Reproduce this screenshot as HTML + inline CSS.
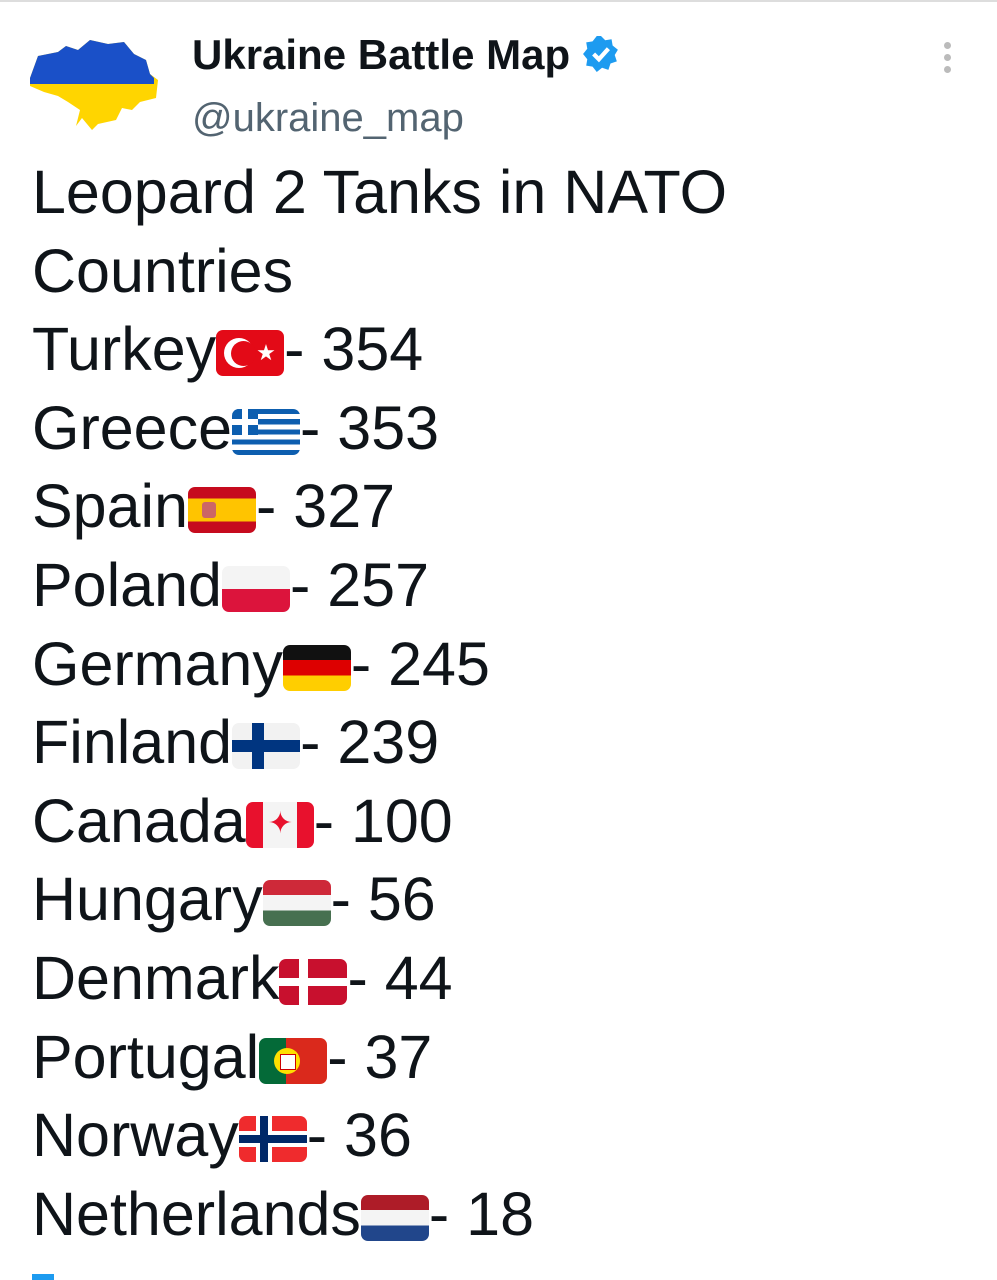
<!DOCTYPE html>
<html><head><meta charset="utf-8"><style>
html,body{margin:0;padding:0;background:#fff;width:997px;height:1280px;overflow:hidden;font-family:"Liberation Sans",sans-serif;}
.topline{position:absolute;left:0;top:0;width:997px;height:2px;background:#ddd;}
.name{position:absolute;left:192px;top:31px;font-size:42px;font-weight:bold;color:#0f1419;}
.handle{position:absolute;left:192px;top:96px;font-size:40px;color:#536471;}
.dots{position:absolute;left:944px;top:42px;}
.dots i{display:block;width:7px;height:7px;border-radius:50%;background:#bbb;margin-bottom:5px;}
.body{position:absolute;left:32px;top:153px;font-size:61px;line-height:78.6px;color:#0f1419;white-space:nowrap;}
.f{display:inline-block;width:68px;height:46px;border-radius:7px;vertical-align:-6px;overflow:hidden;position:relative;}
</style></head><body>
<div class="topline"></div>
<svg style="position:absolute;left:28px;top:38px" width="134" height="95" viewBox="0 0 134 95">
<path d="M2 40 L10 18 L30 14 L38 8 L50 12 L62 2 L80 6 L96 4 L106 16 L118 22 L122 36 L130 42 L128 60 L112 64 L104 72 L94 70 L88 82 L70 86 L64 92 L54 80 L48 88 L52 72 L40 64 L30 58 L16 54 L2 48 Z" fill="#ffd500"/>
<path d="M2 40 L10 18 L30 14 L38 8 L50 12 L62 2 L80 6 L96 4 L106 16 L118 22 L122 36 L126 40 L126 46 L2 46 Z" fill="#1a50c8"/>
</svg>
<div class="name">Ukraine Battle Map <svg width="38" height="38" viewBox="0 0 36 36" style="vertical-align:-4px"><path d="M18 1 L22 5 L28 4 L29 10 L34 14 L31 19 L33 25 L27 27 L25 33 L19 31 L14 35 L10 30 L4 29 L5 23 L1 18 L5 13 L4 7 L10 6 L14 1 Z" fill="#1d9bf0"/><path d="M11 18 L16 23 L25 13" stroke="#fff" stroke-width="4" fill="none"/></svg></div>
<div class="handle">@ukraine_map</div>
<div class="dots"><i></i><i></i><i></i></div>
<div class="body">
Leopard 2 Tanks in NATO<br>
Countries<br>
Turkey<span class="f" style="background:#e30a17"><span style="position:absolute;left:8px;top:8px;width:30px;height:30px;border-radius:50%;background:#fff"></span><span style="position:absolute;left:15px;top:11px;width:25px;height:25px;border-radius:50%;background:#e30a17"></span><span style="position:absolute;left:40px;top:10px;color:#fff;font-size:22px;line-height:26px">★</span></span>- 354<br>
Greece<span class="f" style="background:repeating-linear-gradient(#0d5eaf 0 5.1px,#fff 5.1px 10.2px)"><span style="position:absolute;left:0;top:0;width:26px;height:26px;background:#0d5eaf"></span><span style="position:absolute;left:10px;top:0;width:6px;height:26px;background:#fff"></span><span style="position:absolute;left:0;top:10px;width:26px;height:6px;background:#fff"></span></span>- 353<br>
Spain<span class="f" style="background:linear-gradient(#c60b1e 0 25%,#ffc400 25% 75%,#c60b1e 75%)"><span style="position:absolute;left:14px;top:15px;width:14px;height:16px;background:#c66;border-radius:3px"></span></span>- 327<br>
Poland<span class="f" style="background:linear-gradient(#f4f4f4 0 50%,#dc143c 50%)"></span>- 257<br>
Germany<span class="f" style="background:linear-gradient(#111 0 33%,#dd0000 33% 66%,#ffce00 66%)"></span>- 245<br>
Finland<span class="f" style="background:#f2f2f2"><span style="position:absolute;left:20px;top:0;width:12px;height:46px;background:#003580"></span><span style="position:absolute;left:0;top:17px;width:68px;height:12px;background:#003580"></span></span>- 239<br>
Canada<span class="f" style="background:linear-gradient(90deg,#e8112d 0 25%,#f4f4f4 25% 75%,#e8112d 75%)"><span style="position:absolute;left:22px;top:4px;color:#e8112d;font-size:30px;line-height:36px">✦</span></span>- 100<br>
Hungary<span class="f" style="background:linear-gradient(#ce2939 0 33%,#f4f4f4 33% 66%,#477050 66%)"></span>- 56<br>
Denmark<span class="f" style="background:#c8102e"><span style="position:absolute;left:20px;top:0;width:9px;height:46px;background:#fff"></span><span style="position:absolute;left:0;top:19px;width:68px;height:8px;background:#fff"></span></span>- 44<br>
Portugal<span class="f" style="background:linear-gradient(90deg,#046a38 0 40%,#da291c 40%)"><span style="position:absolute;left:15px;top:10px;width:26px;height:26px;border-radius:50%;background:#ffe000"></span><span style="position:absolute;left:21px;top:16px;width:14px;height:14px;background:#fff;border:1px solid #c00"></span></span>- 37<br>
Norway<span class="f" style="background:#ef2b2d"><span style="position:absolute;left:17px;top:0;width:16px;height:46px;background:#fff"></span><span style="position:absolute;left:0;top:15px;width:68px;height:16px;background:#fff"></span><span style="position:absolute;left:21px;top:0;width:8px;height:46px;background:#002868"></span><span style="position:absolute;left:0;top:19px;width:68px;height:8px;background:#002868"></span></span>- 36<br>
Netherlands<span class="f" style="background:linear-gradient(#ae1c28 0 33%,#f4f4f4 33% 66%,#21468b 66%)"></span>- 18
</div>
<div style="position:absolute;left:32px;top:1274px;width:22px;height:6px;background:#1d9bf0"></div>
</body></html>
